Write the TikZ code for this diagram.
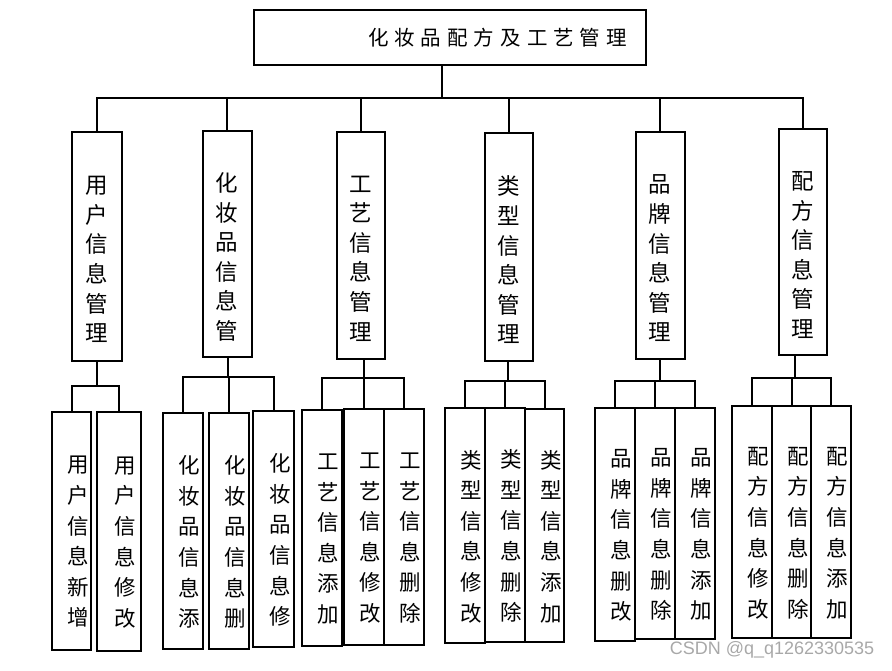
\documentclass[tikz,border=0pt]{standalone}
\usepackage{fontspec}
\setmainfont{Noto Sans CJK SC}
\newfontfamily\wmfont{Liberation Sans}
\usepackage{tikz}
\definecolor{wmgray}{RGB}{168,168,168}
\newcommand{\hs}{\hspace{6pt}}

\begin{document}
\begin{tikzpicture}[x=1pt,y=-1pt]
\tikzstyle{box}=[draw,line width=2pt,inner sep=0pt];
\tikzstyle{mid}=[box,minimum width=49pt,minimum height=227pt];
\tikzstyle{leaf}=[box,minimum width=40pt,minimum height=235pt];
\tikzstyle{wire}=[line width=2pt];
\tikzstyle{vt}=[align=center,inner sep=0pt,font=\fontsize{22.5}{29.6}\selectfont,yshift=-13pt];
\tikzstyle{vs}=[align=center,inner sep=0pt,font=\fontsize{21.5}{30.6}\selectfont,xshift=6.5pt,yshift=-11pt];
\useasboundingbox (0,0) rectangle (892,670);

% top
\node[box,minimum width=392pt,minimum height=55pt,text width=354pt,align=right,
  font=\fontsize{20.5}{24}\selectfont] (top) at (450,37.5)
  {化\hs 妆\hs 品\hs 配\hs 方\hs 及\hs 工\hs 艺\hs 管\hs 理};

% second row
\node[mid,minimum width=50pt,minimum height=229pt,label={[vt]center:用\\户\\信\\息\\管\\理}] (u) at (97,246.5) {};
\node[mid,minimum height=226pt,label={[vt]center:化\\妆\\品\\信\\息\\管}] (c) at (227,244) {};
\node[mid,minimum width=48pt,label={[vt]center:工\\艺\\信\\息\\管\\理}] (g) at (361,245.5) {};
\node[mid,minimum width=48pt,minimum height=228pt,label={[vt]center:类\\型\\信\\息\\管\\理}] (l) at (509,247) {};
\node[mid,label={[vt]center:品\\牌\\信\\息\\管\\理}] (p) at (660,245.5) {};
\node[mid,minimum width=48pt,minimum height=226pt,label={[vt]center:配\\方\\信\\息\\管\\理}] (f) at (803,242) {};

% third row
\node[leaf,minimum width=39pt,minimum height=238pt,label={[vs]center:用\\户\\信\\息\\新\\增}] (u1) at (71.5,531) {};
\node[leaf,minimum width=44pt,minimum height=239pt,label={[vs]center:用\\户\\信\\息\\修\\改}] (u2) at (119,531.5) {};

\node[leaf,minimum height=236pt,label={[vs]center:化\\妆\\品\\信\\息\\添}] (c1) at (183,531) {};
\node[leaf,minimum height=236pt,label={[vs]center:化\\妆\\品\\信\\息\\删}] (c2) at (229,531) {};
\node[leaf,minimum width=41pt,minimum height=236pt,label={[vs]center:化\\妆\\品\\信\\息\\修}] (c3) at (273.5,529) {};

\node[leaf,minimum height=236pt,label={[vs]center:工\\艺\\信\\息\\添\\加}] (g1) at (322,528) {};
\node[leaf,minimum height=236pt,label={[vs]center:工\\艺\\信\\息\\修\\改}] (g2) at (364,527) {};
\node[leaf,minimum height=236pt,label={[vs]center:工\\艺\\信\\息\\删\\除}] (g3) at (404,527) {};

\node[leaf,label={[vs]center:类\\型\\信\\息\\修\\改}] (l1) at (465,525.5) {};
\node[leaf,minimum height=234pt,label={[vs]center:类\\型\\信\\息\\删\\除}] (l2) at (505,525) {};
\node[leaf,minimum width=39pt,minimum height=233pt,label={[vs]center:类\\型\\信\\息\\添\\加}] (l3) at (544.5,525.5) {};

\node[leaf,minimum height=233pt,label={[vs]center:品\\牌\\信\\息\\删\\改}] (p1) at (615,524.5) {};
\node[leaf,minimum height=231pt,label={[vs]center:品\\牌\\信\\息\\删\\除}] (p2) at (655,523.5) {};
\node[leaf,minimum height=231pt,label={[vs]center:品\\牌\\信\\息\\添\\加}] (p3) at (695,523.5) {};

\node[leaf,minimum height=232pt,label={[vs]center:配\\方\\信\\息\\修\\改}] (f1) at (752,522) {};
\node[leaf,minimum width=39pt,minimum height=232pt,label={[vs]center:配\\方\\信\\息\\删\\除}] (f2) at (791.5,522) {};
\node[leaf,minimum height=232pt,label={[vs]center:配\\方\\信\\息\\添\\加}] (f3) at (831,522) {};

% lines
\coordinate (bus) at (442,97.7);
\coordinate (ub) at (97,386);
\coordinate (cb) at (228,377);
\coordinate (gb) at (364,378);
\coordinate (lb) at (508,381);
\coordinate (pb) at (660,381);
\coordinate (fb) at (795,378);

\draw[wire] (top.south -| bus) -- (bus);
\draw[wire] (u.north) |- (bus) -| (f.north);
\draw[wire] (c.north) |- (bus);
\draw[wire] (g.north) |- (bus);
\draw[wire] (l.north) |- (bus);
\draw[wire] (p.north) |- (bus);

\draw[wire] (u.south) -- (ub);
\draw[wire] (u1.north) |- (ub) -| (u2.north);
\foreach \n in {c,g,l,p,f}{
  \draw[wire] (\n.south -| \n b) -- (\n b);
  \draw[wire] (\n1.north) |- (\n b) -| (\n3.north);
  \draw[wire] (\n2.north) -- (\n2.north |- \n b);
}

\node[font=\wmfont\fontsize{18}{20}\selectfont,text=wmgray,inner sep=0pt] (mark) at (772,650) {CSDN @q\_q1262330535};
\end{tikzpicture}
\end{document}
